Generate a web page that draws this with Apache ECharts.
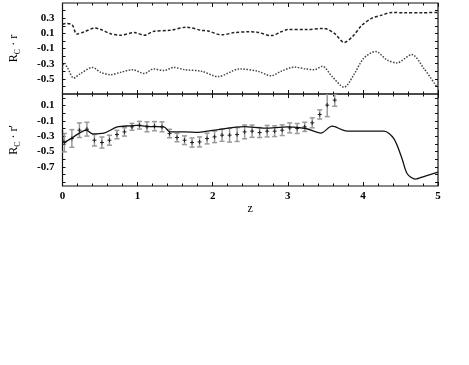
<!DOCTYPE html>
<html>
<head>
<meta charset="utf-8">
<script src="https://cdn.jsdelivr.net/npm/echarts@6/dist/echarts.min.js"></script>
<style>
  html, body { margin: 0; padding: 0; background: #fff; }
  #chart { width: 469px; height: 365px; }
</style>
</head>
<body>
<div id="chart"></div>
<script>
// top panel, dashed curve
var zUpper = [0.0, 0.04, 0.13, 0.19, 0.29, 0.43, 0.51, 0.64, 0.77, 0.96, 1.09, 1.21, 1.43, 1.65, 1.85, 1.94, 2.12, 2.29, 2.47, 2.59, 2.78, 2.91, 3.0, 3.24, 3.48, 3.62, 3.75, 3.86, 3.99, 4.12, 4.25, 4.39, 4.56, 4.8, 5.0];
var rUpper = [0.22, 0.23, 0.21, 0.09, 0.12, 0.17, 0.15, 0.095, 0.075, 0.11, 0.075, 0.125, 0.14, 0.18, 0.14, 0.13, 0.08, 0.11, 0.12, 0.115, 0.07, 0.12, 0.15, 0.15, 0.165, 0.10, -0.02, 0.056, 0.21, 0.30, 0.34, 0.375, 0.37, 0.372, 0.375];

// top panel, dotted curve
var zLower = [0.0, 0.02, 0.07, 0.15, 0.24, 0.40, 0.51, 0.64, 0.77, 0.93, 1.09, 1.21, 1.35, 1.48, 1.63, 1.85, 2.07, 2.36, 2.6, 2.78, 2.91, 3.09, 3.24, 3.35, 3.46, 3.59, 3.75, 3.88, 4.01, 4.17, 4.32, 4.45, 4.65, 4.81, 4.98];
var rLower = [-0.36, -0.29, -0.36, -0.49, -0.43, -0.35, -0.415, -0.445, -0.415, -0.38, -0.43, -0.37, -0.39, -0.35, -0.38, -0.40, -0.47, -0.37, -0.40, -0.46, -0.40, -0.345, -0.37, -0.38, -0.335, -0.47, -0.61, -0.445, -0.23, -0.14, -0.25, -0.29, -0.18, -0.36, -0.6];

// bottom panel, solid curve
var zModel = [0.0, 0.02, 0.13, 0.24, 0.32, 0.40, 0.55, 0.73, 0.90, 0.99, 1.17, 1.35, 1.43, 1.63, 1.81, 2.03, 2.42, 2.69, 3.0, 3.24, 3.44, 3.59, 3.77, 3.95, 4.28, 4.41, 4.52, 4.59, 4.70, 4.83, 5.0];
var rModel = [-0.22, -0.38, -0.32, -0.25, -0.22, -0.27, -0.26, -0.18, -0.165, -0.16, -0.175, -0.18, -0.245, -0.245, -0.25, -0.22, -0.175, -0.195, -0.18, -0.20, -0.26, -0.17, -0.23, -0.235, -0.235, -0.33, -0.59, -0.79, -0.86, -0.82, -0.77];

// bottom panel, points with error bars
var zObs = [0.025, 0.125, 0.225, 0.325, 0.425, 0.525, 0.625, 0.725, 0.825, 0.925, 1.025, 1.125, 1.225, 1.325, 1.425, 1.525, 1.625, 1.725, 1.825, 1.925, 2.025, 2.125, 2.225, 2.325, 2.425, 2.525, 2.625, 2.725, 2.825, 2.925, 3.025, 3.125, 3.225, 3.325, 3.425, 3.525, 3.625];
var rObs = [-0.385, -0.33, -0.222, -0.209, -0.353, -0.383, -0.353, -0.279, -0.244, -0.178, -0.157, -0.178, -0.17, -0.178, -0.266, -0.318, -0.353, -0.383, -0.375, -0.331, -0.309, -0.287, -0.287, -0.279, -0.244, -0.235, -0.253, -0.235, -0.235, -0.222, -0.192, -0.2, -0.178, -0.126, -0.017, 0.105, 0.17];
var eObs = [0.12, 0.115, 0.095, 0.09, 0.075, 0.072, 0.065, 0.055, 0.055, 0.045, 0.05, 0.065, 0.06, 0.065, 0.055, 0.055, 0.057, 0.06, 0.065, 0.07, 0.075, 0.08, 0.09, 0.09, 0.09, 0.08, 0.065, 0.075, 0.07, 0.07, 0.065, 0.065, 0.06, 0.065, 0.06, 0.15, 0.08];

// tick labels
var xTickLabels = [0, 1, 2, 3, 4, 5];
var topTickLabels = [0.3, 0.1, -0.1, -0.3, -0.5];
var topTicks = [0.4, 0.3, 0.2, 0.1, 0.0, -0.1, -0.2, -0.3, -0.4, -0.5, -0.6];
var botTickLabels = [0.1, -0.1, -0.3, -0.5, -0.7];
var botTicks = [0.2, 0.1, 0.0, -0.1, -0.2, -0.3, -0.4, -0.5, -0.6, -0.7, -0.8, -0.9];

function pairs(xs, ys) {
    var out = [];
    for (var i = 0; i < xs.length; i++) out.push([xs[i], ys[i]]);
    return out;
}

var serif = 'Liberation Serif';
var txt = '#000';

function xAx(grid, pos, labels) {
    return {
        type: 'value', gridIndex: grid, position: pos, min: 0, max: 5, interval: 1,
        axisLine: { show: false, onZero: false },
        axisTick: { show: true, inside: true, length: 4, lineStyle: { color: '#111', width: 1 } },
        minorTick: { show: true, splitNumber: 5, length: 2.5, lineStyle: { color: '#111', width: 1 } },
        splitLine: { show: false },
        axisLabel: { show: labels, margin: 5, fontFamily: serif, fontSize: 11, fontWeight: 'bold', color: txt,
            customValues: xTickLabels, formatter: function (v) { return String(v); } }
    };
}

function yAx(grid, pos, mn, mx, ticks, labels, name) {
    var a = {
        type: 'value', gridIndex: grid, position: pos, min: mn, max: mx,
        axisLine: { show: false, onZero: false },
        axisTick: { show: true, inside: true, length: 3, customValues: ticks, lineStyle: { color: '#111', width: 1 } },
        splitLine: { show: false },
        axisLabel: { show: !!labels, margin: 8, fontFamily: serif, fontSize: 11, fontWeight: 'bold', color: txt,
            customValues: labels || [], formatter: function (v) { return v.toFixed(1); } }
    };
    if (name) {
        a.name = name;
        a.nameLocation = 'middle';
        a.nameRotate = 90;
        a.nameGap = 41;
        a.nameTextStyle = {
            fontFamily: serif, fontSize: 12, color: txt,
            rich: {
                r: { fontFamily: serif, fontSize: 12, color: txt },
                s: { fontFamily: serif, fontSize: 8, color: txt, padding: [7, 0, 0, 0] }
            }
        };
    }
    return a;
}

function renderErr(params, api) {
    var z = api.value(0), r = api.value(1), e = api.value(2);
    var hi = api.coord([z, r + e]);
    var lo = api.coord([z, r - e]);
    var c = api.coord([z, r]);
    var cap = 2.5, gray = { stroke: '#9a9a9a', lineWidth: 1.5 }, blk = { stroke: '#222', lineWidth: 1 };
    return {
        type: 'group',
        children: [
            { type: 'line', shape: { x1: hi[0], y1: hi[1], x2: lo[0], y2: lo[1] }, style: gray },
            { type: 'line', shape: { x1: hi[0] - cap, y1: hi[1], x2: hi[0] + cap, y2: hi[1] }, style: gray },
            { type: 'line', shape: { x1: lo[0] - cap, y1: lo[1], x2: lo[0] + cap, y2: lo[1] }, style: gray },
            { type: 'line', shape: { x1: c[0] - 2, y1: c[1], x2: c[0] + 2, y2: c[1] }, style: blk },
            { type: 'line', shape: { x1: c[0], y1: c[1] - 2, x2: c[0], y2: c[1] + 2 }, style: blk }
        ]
    };
}

var obsData = [];
for (var i = 0; i < zObs.length; i++) obsData.push([zObs[i], rObs[i], eObs[i]]);

var myChart = echarts.init(document.getElementById('chart'));
var option = {
    animation: false,
    backgroundColor: '#fff',
    grid: [
        { left: 59, right: 31, top: 3, height: 91, show: true, borderColor: '#111', borderWidth: 1.2, backgroundColor: 'transparent' },
        { left: 59, right: 31, top: 94, height: 92, show: true, borderColor: '#111', borderWidth: 1.2, backgroundColor: 'transparent' }
    ],
    xAxis: [
        xAx(0, 'bottom', false),
        xAx(0, 'top', false),
        Object.assign(xAx(1, 'bottom', true), {
            name: 'z', nameLocation: 'middle', nameGap: 16,
            nameTextStyle: { fontFamily: serif, fontSize: 12, color: txt }
        }),
        xAx(1, 'top', false)
    ],
    yAxis: [
        yAx(0, 'left', -0.7, 0.5, topTicks, topTickLabels, '{r|R}{s|C}{r| · r}'),
        yAx(0, 'right', -0.7, 0.5, topTicks, null, null),
        yAx(1, 'left', -0.95, 0.25, botTicks, botTickLabels, "{r|R}{s|C}{r| · r'}"),
        yAx(1, 'right', -0.95, 0.25, botTicks, null, null)
    ],
    series: [
        {
            type: 'line', xAxisIndex: 0, yAxisIndex: 0, data: pairs(zUpper, rUpper),
            showSymbol: false, smooth: 0.3,
            lineStyle: { color: '#222', width: 1.5, type: [3, 2] }
        },
        {
            type: 'line', xAxisIndex: 0, yAxisIndex: 0, data: pairs(zLower, rLower),
            showSymbol: false, smooth: 0.3,
            lineStyle: { color: '#444', width: 1.5, type: [1.5, 1.5] }
        },
        {
            type: 'custom', xAxisIndex: 2, yAxisIndex: 2, data: obsData,
            encode: { x: 0, y: 1 }, renderItem: renderErr, clip: true, z: 3
        },
        {
            type: 'line', xAxisIndex: 2, yAxisIndex: 2, data: pairs(zModel, rModel),
            showSymbol: false, smooth: 0.3, z: 4,
            lineStyle: { color: '#111', width: 1.3 }
        }
    ]
};
myChart.setOption(option);
</script>
</body>
</html>
